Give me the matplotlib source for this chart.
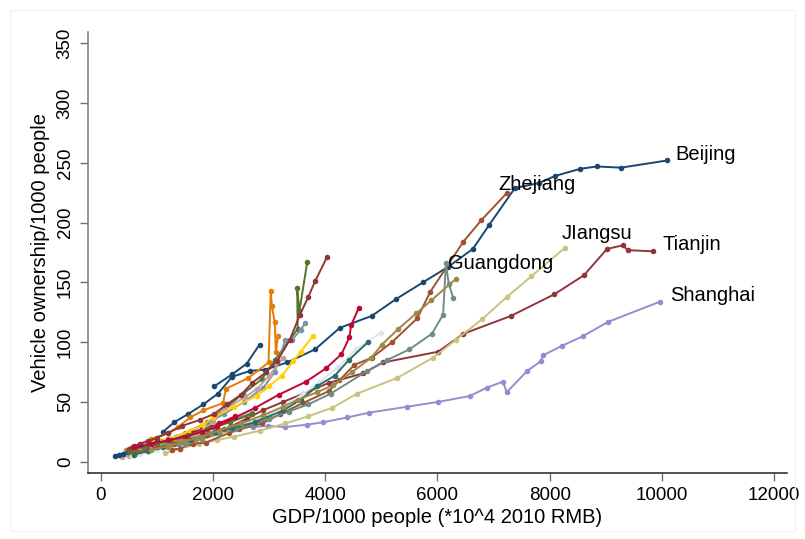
import matplotlib
matplotlib.use("Agg")
import matplotlib.pyplot as plt
from matplotlib.patches import Rectangle

# Stata s2color palette
navy = "#1a476f"; maroon = "#90353b"; forest = "#55752f"; dkorange = "#e37e00"
teal = "#6e8e84"; cranberry = "#c10534"; lavender = "#938dd2"; khaki = "#cac27e"
sienna = "#a0522d"; emidblue = "#7b92a8"; emerald = "#2d6d66"; brown = "#9c8847"
erose = "#bfa19c"; gold = "#ffd200"; bluishgray = "#d9e6eb"

# ---- data: GDP/1000 people (x) vs vehicle ownership/1000 people (y) ----
beijing_x = [1110, 1310, 1560, 1830, 2090, 2340, 2660, 2930, 3320, 3820, 4260, 4830, 5260, 5740, 6190, 6630, 6920, 7380, 7800, 8090, 8540, 8840, 9270, 10090]
beijing_y = [25, 33, 40, 48, 57, 71, 76, 77, 83, 94, 112, 122, 136, 150, 163, 178, 198, 229, 233, 239, 245, 247, 246, 252]

tianjin_x = [1400, 1700, 2000, 2300, 2600, 2890, 3250, 3610, 4070, 4680, 5030, 6010, 6460, 7310, 8080, 8610, 9020, 9300, 9390, 9840]
tianjin_y = [15, 19, 24, 29, 36, 43, 50, 57, 66, 74, 83, 92, 107, 122, 140, 156, 178, 181, 177, 176]

shanghai_x = [2720, 2980, 3290, 3680, 3960, 4390, 4780, 5460, 6010, 6580, 6880, 7170, 7230, 7600, 7840, 7880, 8220, 8590, 9040, 9970]
shanghai_y = [29, 30, 29, 31, 33, 37, 41, 46, 50, 55, 62, 67, 58, 76, 84, 89, 97, 105, 117, 134]

jiangsu_x = [1150, 1410, 1760, 2070, 2380, 2840, 3290, 3700, 4120, 4570, 5280, 5920, 6330, 6790, 7240, 7670, 8270]
jiangsu_y = [7, 11, 15, 18, 21, 26, 32, 38, 45, 57, 70, 87, 102, 119, 138, 155, 179]

zhejiang_x = [1270, 1410, 1640, 1870, 2290, 2470, 2880, 3200, 3600, 4060, 4250, 4520, 4830, 5190, 5640, 5870, 6460, 6780, 7240]
zhejiang_y = [10, 11, 15, 16, 24, 27, 32, 40, 49, 59, 68, 81, 87, 100, 120, 142, 184, 202, 225]

guangdong_x = [1200, 1500, 1800, 2100, 2400, 2700, 3000, 3350, 3700, 4100, 4750, 5100, 5500, 5900, 6100, 6150, 6200, 6280]
guangdong_y = [12, 15, 19, 23, 27, 31, 36, 42, 48, 57, 76, 85, 94, 107, 123, 166, 149, 137]

navy_short_x = [2020, 2340, 2600, 2830]
navy_short_y = [63, 73, 82, 98]

navy_low_x = [260, 330, 400, 490, 600, 720, 850, 1000]
navy_low_y = [4.5, 5.5, 6.5, 8, 10, 12, 14, 17]

maroon_steep_x = [500, 600, 700, 850, 1000, 1200, 1450, 1770, 2020, 2250, 2500, 2700, 2950, 3140, 3370, 3550, 3700, 3820, 4030]
maroon_steep_y = [11, 13, 15, 17, 20, 24, 30, 35, 40, 48, 56, 66, 75, 84, 102, 123, 138, 151, 171]

forest_x = [600, 750, 900, 1100, 1350, 1600, 1900, 2200, 2540, 2870, 3100, 3510, 3500, 3540, 3680]
forest_y = [10, 12, 14, 17, 21, 26, 33, 44, 57, 69, 85, 111, 145, 126, 167]

orange_x = [450, 550, 700, 900, 1200, 1380, 1590, 1830, 2180, 2230, 2630, 2990, 3030, 3050, 3100, 3120, 3160]
orange_y = [10, 12, 15, 19, 24, 29, 37, 43, 49, 61, 70, 83, 143, 130, 117, 92, 105]

cranberry_x = [600, 900, 1200, 1500, 1810, 2070, 2390, 2750, 3170, 3660, 4010, 4290, 4430, 4460, 4600]
cranberry_y = [12, 15, 18, 21, 25, 29, 37, 45, 56, 67, 78, 90, 104, 114, 129]

emidblue_x = [450, 600, 750, 950, 1200, 1500, 1850, 2200, 2550, 2900, 3100, 3290, 3410, 3560, 3640]
emidblue_y = [8, 10, 12, 15, 19, 24, 31, 40, 50, 62, 75, 102, 102, 110, 116]

gold_x = [740, 920, 1290, 1550, 1830, 2000, 2380, 2780, 2990, 3230, 3430, 3560, 3780]
gold_y = [11, 16, 20, 25, 31, 37, 46, 55, 63, 72, 84, 92, 105]

bluish_x = [550, 700, 850, 1000, 1200, 1500, 1800, 2100, 2400, 2700, 3000, 3290, 3610, 3910, 4230, 4550, 4990]
bluish_y = [5, 6.5, 8, 10, 12, 15, 19, 24, 29, 34, 40, 47, 57, 67, 79, 94, 108]

emerald_x = [600, 850, 1110, 1590, 2035, 2340, 2750, 3250, 3570, 3850, 4170, 4420, 4760]
emerald_y = [6, 9, 12, 18, 25, 28, 33, 43, 52, 63, 72, 85, 100]

brown_x = [900, 1200, 1500, 1800, 2100, 2500, 2900, 3250, 3520, 3850, 4140, 4480, 4820, 5010, 5300, 5620, 5890, 6330]
brown_y = [10, 13, 17, 21, 26, 32, 39, 46, 52, 58, 64, 75, 87, 98, 111, 124, 135, 153]

erose_x = [380, 500, 650, 850, 1100, 1400, 1700, 2000, 2180, 2570, 2790, 3000, 3250]
erose_y = [4, 5, 7, 9, 12, 16, 23, 33, 43, 54, 61, 72, 87]

teal2_x = [400, 550, 700, 900, 1100, 1400, 1700, 2000, 2300, 2700]
teal2_y = [6, 8, 10, 12, 15, 19, 24, 29, 34, 41]

cranberry2_x = [500, 650, 800, 1000, 1200, 1500, 1800, 2100, 2400]
cranberry2_y = [9, 11, 13, 16, 19, 23, 27, 32, 38]

khaki2_x = [700, 900, 1100, 1300, 1600, 1900, 2200]
khaki2_y = [9, 11, 13, 15, 18, 22, 26]

sienna2_x = [600, 800, 1000, 1300, 1600, 1900, 2200, 2500]
sienna2_y = [8, 10, 12, 15, 18, 22, 27, 32]

emerald2_x = [500, 700, 900, 1200, 1500, 1800, 2200, 2600, 3000]
emerald2_y = [7, 9, 11, 14, 17, 21, 26, 32, 38]

brown2_x = [600, 800, 1000, 1300, 1600, 1900, 2300]
brown2_y = [9, 11, 13, 16, 20, 24, 29]

forest2_x = [500, 650, 800, 1000, 1250, 1550, 1900, 2300, 2700]
forest2_y = [8, 10, 12, 15, 18, 22, 27, 33, 40]

series = [
    (beijing_x, beijing_y, navy),
    (tianjin_x, tianjin_y, maroon),
    (forest_x, forest_y, forest),
    (orange_x, orange_y, dkorange),
    (teal2_x, teal2_y, teal),
    (cranberry2_x, cranberry2_y, cranberry),
    (shanghai_x, shanghai_y, lavender),
    (jiangsu_x, jiangsu_y, khaki),
    (zhejiang_x, zhejiang_y, sienna),
    (emidblue_x, emidblue_y, emidblue),
    (emerald2_x, emerald2_y, emerald),
    (brown2_x, brown2_y, brown),
    (erose_x, erose_y, erose),
    (gold_x, gold_y, gold),
    (bluish_x, bluish_y, bluishgray),
    (navy_low_x, navy_low_y, navy),
    (maroon_steep_x, maroon_steep_y, maroon),
    (forest2_x, forest2_y, forest),
    (guangdong_x, guangdong_y, teal),
    (cranberry_x, cranberry_y, cranberry),
    (khaki2_x, khaki2_y, khaki),
    (sienna2_x, sienna2_y, sienna),
    (emerald_x, emerald_y, emerald),
    (brown_x, brown_y, brown),
    (navy_short_x, navy_short_y, navy),
]

labels = ["Beijing", "Zhejiang", "JIangsu", "Tianjin", "Guangdong", "Shanghai"]
label_x = [10232, 7078, 8219, 10017, 6188, 10143]
label_y = [256.6, 231.5, 191.3, 181.3, 166.2, 139.4]

x_ticks = [0, 2000, 4000, 6000, 8000, 10000, 12000]
y_ticks = [0, 50, 100, 150, 200, 250, 300, 350]

plt.rcParams["font.family"] = ["Liberation Sans", "DejaVu Sans"]

fig = plt.figure(figsize=(8.05, 5.39), dpi=100)
fig.patch.set_facecolor("white")
fig.patches.append(Rectangle((10 / 805, 8 / 539), 785 / 805, 521 / 539, transform=fig.transFigure,
                             fill=False, edgecolor="#f0f4f5", linewidth=1))
ax = fig.add_axes([87.7 / 805, 1 - 472.7 / 539, (787 - 87.7) / 805, (472.7 - 32) / 539])

for xs, ys, c in series:
    ax.plot(xs, ys, color=c, linewidth=1.4, marker="o", markersize=4.0,
            markeredgewidth=0, solid_joinstyle="round")

for t, lx, ly in zip(labels, label_x, label_y):
    ax.text(lx, ly, t, fontsize=14.5, ha="left", va="center", color="black")

ax.set_xlim(-231.6, 12227)
ax.set_ylim(-9.2, 359.5)
ax.set_xticks(x_ticks)
ax.set_yticks(y_ticks)
ax.set_xticklabels([str(v) for v in x_ticks], fontsize=13.5)
ax.set_yticklabels([str(v) for v in y_ticks], fontsize=13.5, rotation=90, va="center")
ax.tick_params(axis="both", length=6, width=1, color="#6f6f6f", pad=4)
ax.set_xlabel("GDP/1000 people (*10^4 2010 RMB)", fontsize=14.5, labelpad=3)
ax.set_ylabel("Vehicle ownership/1000 people", fontsize=14.5, labelpad=5)

for s in ["top", "right"]:
    ax.spines[s].set_visible(False)
ax.spines["left"].set_color("#7a7a7a")
ax.spines["bottom"].set_color("#222222")
ax.spines["left"].set_linewidth(1.1)
ax.spines["bottom"].set_linewidth(1.1)

fig.savefig("out.png", dpi=100, facecolor="white")
